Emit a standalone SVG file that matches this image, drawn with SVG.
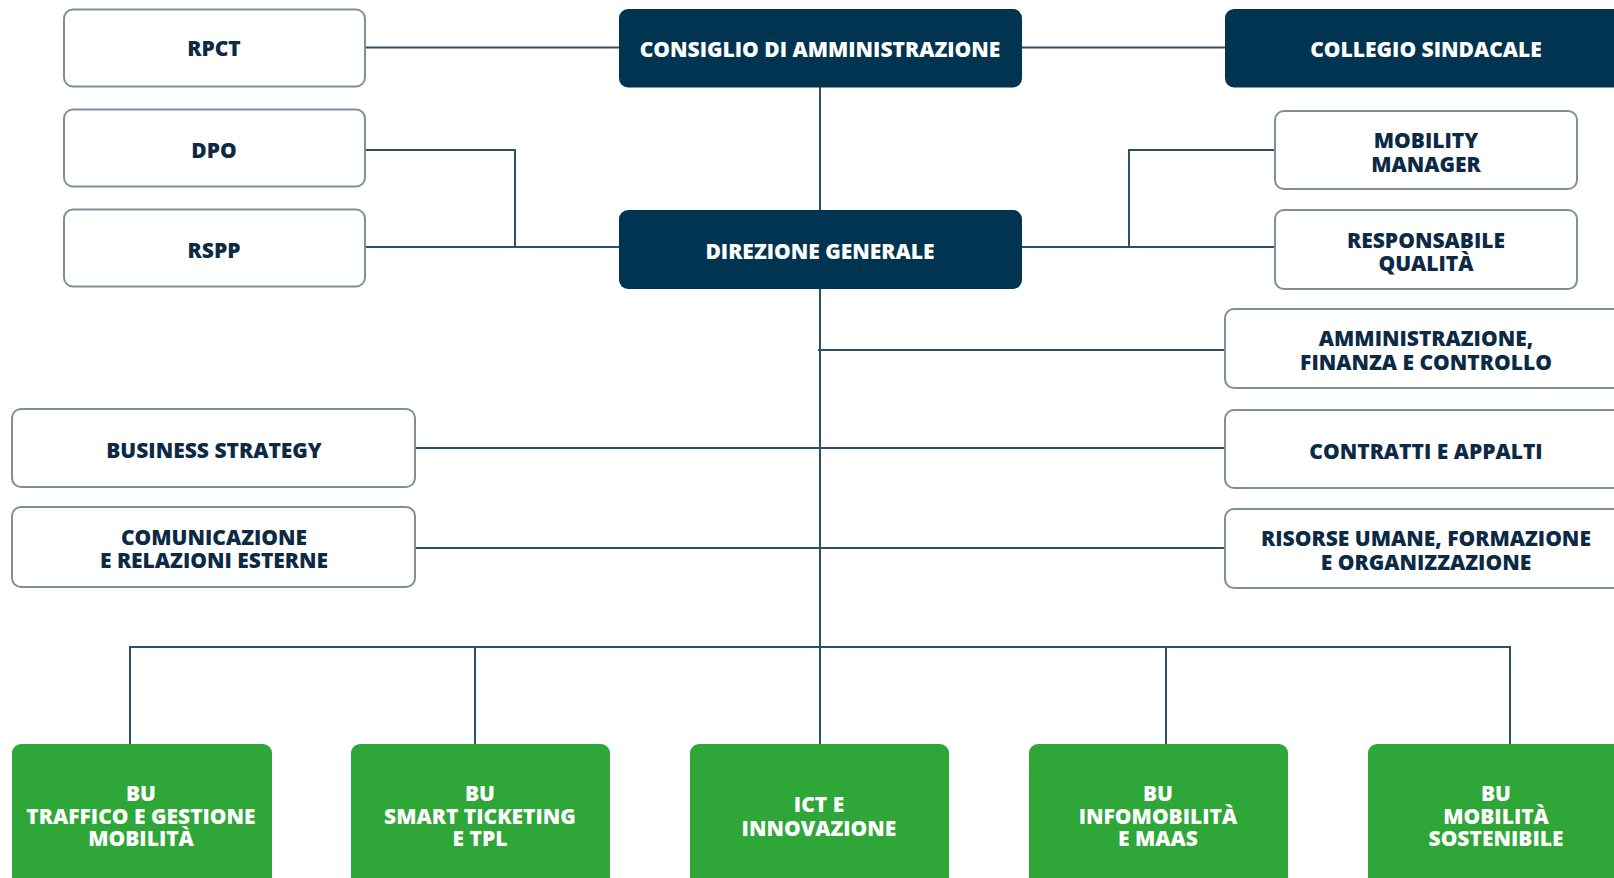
<svg xmlns="http://www.w3.org/2000/svg" width="1614" height="878" viewBox="0 0 1614 878">
<style>
.w{fill:#ffffff;stroke:#7f8e9b;stroke-width:2}
.d{fill:#003450}
.g{fill:#2ea638}
.t{font-family:"Open Sans","Liberation Sans",sans-serif;font-weight:800;font-size:21px;text-anchor:middle;fill:#0d2a45}
.tw{fill:#ffffff}
.c{fill:none;stroke:#2f5069;stroke-width:2}
</style>
<rect width="1614" height="878" fill="#ffffff"/>
<g id="connectors">
<line class="c" x1="365" y1="47.5" x2="619" y2="47.5"/>
<line class="c" x1="1022" y1="47.5" x2="1225" y2="47.5"/>
<line class="c" x1="820" y1="87" x2="820" y2="744"/>
<polyline class="c" points="365,150 515,150 515,247"/>
<line class="c" x1="365" y1="247" x2="619" y2="247"/>
<line class="c" x1="1022" y1="247" x2="1275" y2="247"/>
<polyline class="c" points="1275,150 1129,150 1129,247"/>
<line class="c" x1="818" y1="350" x2="1225" y2="350"/>
<line class="c" x1="415" y1="448" x2="1225" y2="448"/>
<line class="c" x1="415" y1="548" x2="1225" y2="548"/>
<polyline class="c" points="130,744 130,647 1510,647 1510,744"/>
<line class="c" x1="475" y1="647" x2="475" y2="744"/>
<line class="c" x1="1166" y1="647" x2="1166" y2="744"/>
</g>
<g id="rpct"><rect class="w" x="64" y="9.5" width="301" height="77" rx="9"/><text class="t" x="214" y="56">RPCT</text></g>
<g id="dpo"><rect class="w" x="64" y="109.5" width="301" height="77" rx="9"/><text class="t" x="214" y="157.5">DPO</text></g>
<g id="rspp"><rect class="w" x="64" y="209.5" width="301" height="77" rx="9"/><text class="t" x="214" y="257.5">RSPP</text></g>
<g id="cda"><rect class="d" x="619" y="9" width="403" height="78.5" rx="9"/><text class="t tw" x="820" y="57">CONSIGLIO DI AMMINISTRAZIONE</text></g>
<g id="collegio"><rect class="d" x="1225" y="9" width="402" height="78.5" rx="9"/><text class="t tw" x="1426" y="57">COLLEGIO SINDACALE</text></g>
<g id="dg"><rect class="d" x="619" y="210" width="403" height="79" rx="9"/><text class="t tw" x="820" y="258.5">DIREZIONE GENERALE</text></g>
<g id="mobility"><rect class="w" x="1275" y="111" width="302" height="78" rx="9"/><text class="t" x="1426" y="147.5">MOBILITY</text><text class="t" x="1426" y="171.5">MANAGER</text></g>
<g id="qualita"><rect class="w" x="1275" y="210" width="302" height="79" rx="9"/><text class="t" x="1426" y="247.5">RESPONSABILE</text><text class="t" x="1426" y="271">QUALITÀ</text></g>
<g id="afc"><rect class="w" x="1225" y="309" width="402" height="79" rx="9"/><text class="t" x="1426" y="346">AMMINISTRAZIONE,</text><text class="t" x="1426" y="369.5">FINANZA E CONTROLLO</text></g>
<g id="contratti"><rect class="w" x="1225" y="410" width="402" height="78" rx="9"/><text class="t" x="1426" y="458.5">CONTRATTI E APPALTI</text></g>
<g id="risorse"><rect class="w" x="1225" y="509" width="402" height="79" rx="9"/><text class="t" x="1426" y="546">RISORSE UMANE, FORMAZIONE</text><text class="t" x="1426" y="569.5">E ORGANIZZAZIONE</text></g>
<g id="business"><rect class="w" x="12" y="409" width="403" height="78" rx="9"/><text class="t" x="214" y="457.5">BUSINESS STRATEGY</text></g>
<g id="comunicazione"><rect class="w" x="12" y="507" width="403" height="80" rx="9"/><text class="t" x="214" y="544.5">COMUNICAZIONE</text><text class="t" x="214" y="568">E RELAZIONI ESTERNE</text></g>
<g id="bu-traffico"><rect class="g" x="12" y="744" width="260" height="150" rx="9"/><text class="t tw" x="141" y="801">BU</text><text class="t tw" x="141" y="823.5">TRAFFICO E GESTIONE</text><text class="t tw" x="141" y="846">MOBILITÀ</text></g>
<g id="bu-smart"><rect class="g" x="351" y="744" width="259" height="150" rx="9"/><text class="t tw" x="480" y="801">BU</text><text class="t tw" x="480" y="823.5">SMART TICKETING</text><text class="t tw" x="480" y="846">E TPL</text></g>
<g id="ict"><rect class="g" x="690" y="744" width="259" height="150" rx="9"/><text class="t tw" x="819" y="811.5">ICT E</text><text class="t tw" x="819" y="835.5">INNOVAZIONE</text></g>
<g id="bu-infomobilita"><rect class="g" x="1029" y="744" width="259" height="150" rx="9"/><text class="t tw" x="1158" y="801">BU</text><text class="t tw" x="1158" y="823.5">INFOMOBILITÀ</text><text class="t tw" x="1158" y="846">E MAAS</text></g>
<g id="bu-sostenibile"><rect class="g" x="1368" y="744" width="259" height="150" rx="9"/><text class="t tw" x="1496" y="801">BU</text><text class="t tw" x="1496" y="823.5">MOBILITÀ</text><text class="t tw" x="1496" y="846">SOSTENIBILE</text></g>
</svg>
